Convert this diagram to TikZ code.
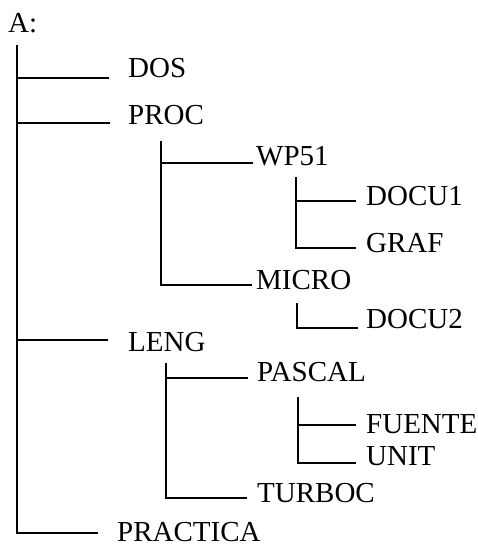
\documentclass[tikz,border=0pt]{standalone}
\usepackage{fontspec}
\setmainfont{Liberation Serif}

\begin{document}
\begin{tikzpicture}[x=1pt, y=-1pt,
			dir/.style={anchor=base west, inner sep=0pt, font=\fontsize{29}{34}\selectfont},
			branch/.style={line width=1.8pt},
		]
		\useasboundingbox (0,0) rectangle (478,548);

		\node[dir] (root) at (8,33) {A:};
		\node[dir] (dos) at (128,78) {DOS};
		\node[dir] (proc) at (128,125) {PROC};
		\node[dir] (wp) at (256,166) {WP51};
		\node[dir] (docua) at (366,205) {DOCU1};
		\node[dir] (graf) at (366,252) {GRAF};
		\node[dir] (micro) at (256,289) {MICRO};
		\node[dir] (docub) at (366,328) {DOCU2};
		\node[dir] (leng) at (128,351) {LENG};
		\node[dir] (pascal) at (257,381) {PASCAL};
		\node[dir] (fuente) at (366,433) {FUENTE};
		\node[dir] (unit) at (366,465) {UNIT};
		\node[dir] (turboc) at (257,502) {TURBOC};
		\node[dir] (practica) at (117,541) {PRACTICA};

		\coordinate (rootbar) at (17,45);
		\coordinate (procbar) at (161,141);
		\coordinate (wpbar) at (296,177);
		\coordinate (microbar) at (297,303);
		\coordinate (lengbar) at (166,363);
		\coordinate (pascalbar) at (298,397);

		\draw[branch] (rootbar) |- ([xshift=-19pt]dos.base west);
		\draw[branch] (rootbar) |- ([xshift=-18pt, yshift=2pt]proc.base west);
		\draw[branch] (rootbar) |- ([xshift=-20pt, yshift=11pt]leng.base west);
		\draw[branch] (rootbar) |- ([xshift=-19pt, yshift=8pt]practica.base west);

		\draw[branch] (procbar) |- ([xshift=-3pt, yshift=3pt]wp.base west);
		\draw[branch] (procbar) |- ([xshift=-4pt, yshift=4pt]micro.base west);

		\draw[branch] (wpbar) |- ([xshift=-10pt, yshift=4pt]docua.base west);
		\draw[branch] (wpbar) |- ([xshift=-10pt, yshift=4pt]graf.base west);

		\draw[branch] (microbar) |- ([xshift=-8pt]docub.base west);

		\draw[branch] (lengbar) |- ([xshift=-9pt, yshift=3pt]pascal.base west);
		\draw[branch] (lengbar) |- ([xshift=-10pt, yshift=4pt]turboc.base west);

		\draw[branch] (pascalbar) |- ([xshift=-10pt, yshift=8pt]fuente.base west);
		\draw[branch] (pascalbar) |- ([xshift=-10pt, yshift=2pt]unit.base west);

\end{tikzpicture}
\end{document}
